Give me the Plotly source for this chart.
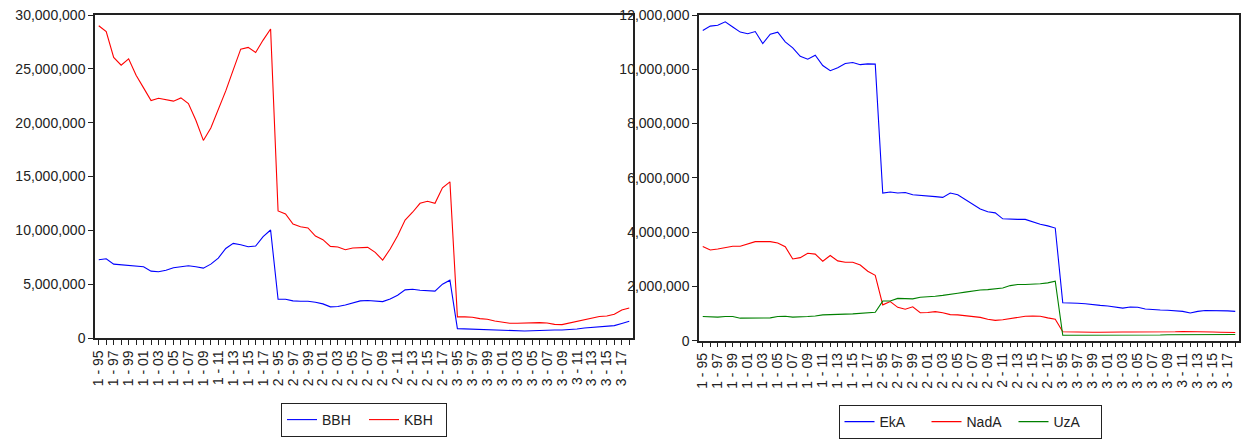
import plotly.graph_objects as go

# Category labels: three groups, each covering the years 1995-2018
groups = ["1", "2", "3"]
years = ["95", "96", "97", "98", "99", "00", "01", "02", "03", "04", "05", "06",
         "07", "08", "09", "10", "11", "12", "13", "14", "15", "16", "17", "18"]

# Series values in millions
bbh = [7.27, 7.36, 6.86, 6.80, 6.80, 6.68, 6.62, 6.21, 6.15, 6.30, 6.52, 6.62,
       6.71, 6.62, 6.49, 6.86, 7.42, 8.32, 8.79, 8.66, 8.48, 8.54, 9.41, 10.03,
       3.60, 3.60, 3.45, 3.42, 3.42, 3.32, 3.17, 2.89, 2.92, 3.07, 3.26, 3.45,
       3.48, 3.45, 3.38, 3.63, 3.97, 4.47, 4.53, 4.44, 4.38, 4.35, 5.00, 5.37,
       0.87, 0.84, 0.81, 0.78, 0.78, 0.75, 0.68, 0.65, 0.65, 0.65, 0.68, 0.72,
       0.75, 0.75, 0.75, 0.78, 0.84, 0.93, 1.00, 1.06, 1.12, 1.15, 1.35, 1.55]

kbh = [29.00, 28.45, 26.06, 25.34, 25.93, 24.41, 23.23, 22.05, 22.27, 22.15, 22.00, 22.30,
       21.77, 20.22, 18.35, 19.50, 21.15, 22.95, 24.90, 26.83, 26.99, 26.52, 27.67, 28.70,
       11.80, 11.52, 10.59, 10.34, 10.22, 9.47, 9.13, 8.51, 8.45, 8.20, 8.36, 8.42,
       8.42, 7.95, 7.24, 8.26, 9.50, 10.96, 11.68, 12.51, 12.70, 12.51, 13.95, 14.50,
       1.96, 1.96, 1.93, 1.80, 1.74, 1.58, 1.46, 1.37, 1.37, 1.40, 1.43, 1.43,
       1.40, 1.27, 1.24, 1.40, 1.52, 1.74, 1.90, 2.00, 2.05, 2.20, 2.60, 2.78]

eka = [11.43, 11.59, 11.62, 11.75, 11.56, 11.37, 11.31, 11.39, 10.95, 11.29, 11.37, 11.01,
       10.79, 10.48, 10.37, 10.52, 10.14, 9.95, 10.06, 10.21, 10.25, 10.17, 10.20, 10.19,
       5.44, 5.48, 5.44, 5.46, 5.38, 5.36, 5.35, 5.31, 5.28, 5.44, 5.38, 5.20,
       5.00, 4.85, 4.75, 4.71, 4.49, 4.47, 4.47, 4.47, 4.37, 4.29, 4.23, 4.15,
       1.40, 1.40, 1.38, 1.36, 1.32, 1.30, 1.28, 1.24, 1.20, 1.24, 1.23, 1.17,
       1.14, 1.13, 1.12, 1.11, 1.08, 1.02, 1.08, 1.11, 1.11, 1.10, 1.10, 1.08]

nada = [3.47, 3.34, 3.38, 3.43, 3.48, 3.48, 3.56, 3.65, 3.65, 3.65, 3.60, 3.46,
        3.01, 3.06, 3.22, 3.19, 2.93, 3.14, 2.94, 2.89, 2.89, 2.79, 2.56, 2.41,
        1.32, 1.44, 1.23, 1.16, 1.25, 1.03, 1.04, 1.07, 1.03, 0.96, 0.95, 0.92,
        0.87, 0.86, 0.79, 0.75, 0.77, 0.81, 0.87, 0.90, 0.91, 0.90, 0.84, 0.79,
        0.33, 0.32, 0.32, 0.32, 0.31, 0.31, 0.32, 0.33, 0.32, 0.32, 0.32, 0.31,
        0.31, 0.31, 0.32, 0.33, 0.34, 0.34, 0.33, 0.33, 0.32, 0.31, 0.31, 0.30]

uza = [0.89, 0.87, 0.87, 0.89, 0.89, 0.83, 0.83, 0.84, 0.83, 0.84, 0.89, 0.90,
       0.87, 0.87, 0.89, 0.91, 0.95, 0.96, 0.96, 0.98, 0.99, 1.01, 1.01, 1.05,
       1.46, 1.46, 1.56, 1.54, 1.54, 1.60, 1.61, 1.64, 1.67, 1.72, 1.75, 1.79,
       1.83, 1.87, 1.88, 1.90, 1.94, 2.03, 2.07, 2.07, 2.08, 2.10, 2.13, 2.19,
       0.20, 0.20, 0.20, 0.19, 0.19, 0.20, 0.20, 0.20, 0.20, 0.21, 0.21, 0.21,
       0.21, 0.21, 0.22, 0.22, 0.22, 0.22, 0.23, 0.23, 0.23, 0.23, 0.23, 0.23]

left_ticks = [0, 5_000_000, 10_000_000, 15_000_000, 20_000_000, 25_000_000, 30_000_000]
right_ticks = [0, 2_000_000, 4_000_000, 6_000_000, 8_000_000, 10_000_000, 12_000_000]

MILLION = 1_000_000
labels = [f"{g} - {y}" for g in groups for y in years]
xpos = list(range(len(labels)))
ticktext = [lab if i % 2 == 0 else "" for i, lab in enumerate(labels)]

FONT = "Liberation Sans, Arial, sans-serif"
TEXT = "#222222"
W, H = 1246, 439


def scaled(vals):
    return [v * MILLION for v in vals]


fig = go.Figure()
line_kw = dict(width=1.1)
fig.add_trace(go.Scatter(x=xpos, y=scaled(bbh), name="BBH", mode="lines",
                         line=dict(color="#0000ff", **line_kw), xaxis="x", yaxis="y",
                         legend="legend"))
fig.add_trace(go.Scatter(x=xpos, y=scaled(kbh), name="KBH", mode="lines",
                         line=dict(color="#ff0000", **line_kw), xaxis="x", yaxis="y",
                         legend="legend"))
fig.add_trace(go.Scatter(x=xpos, y=scaled(eka), name="EkA", mode="lines",
                         line=dict(color="#0000ff", **line_kw), xaxis="x2", yaxis="y2",
                         legend="legend2"))
fig.add_trace(go.Scatter(x=xpos, y=scaled(nada), name="NadA", mode="lines",
                         line=dict(color="#ff0000", **line_kw), xaxis="x2", yaxis="y2",
                         legend="legend2"))
fig.add_trace(go.Scatter(x=xpos, y=scaled(uza), name="UzA", mode="lines",
                         line=dict(color="#008000", **line_kw), xaxis="x2", yaxis="y2",
                         legend="legend2"))

xaxis_common = dict(
    range=[-0.5, len(labels) - 0.5],
    tickmode="array", tickvals=xpos, ticktext=ticktext,
    tickangle=-90, ticks="outside", ticklen=5, tickwidth=1, tickcolor=TEXT,
    showline=True, linecolor=TEXT, linewidth=1.5, mirror=True,
    showgrid=False, zeroline=False, automargin=False,
    tickfont=dict(family=FONT, size=14, color=TEXT),
)
yaxis_common = dict(
    tickmode="array", ticks="outside", ticklen=5, tickwidth=1, tickcolor=TEXT,
    tickformat=",d",
    showline=True, linecolor=TEXT, linewidth=1.5, mirror=True,
    showgrid=False, zeroline=False, automargin=False,
    tickfont=dict(family=FONT, size=14, color=TEXT),
)

legend_common = dict(
    orientation="h", bordercolor=TEXT, borderwidth=1, bgcolor="white",
    font=dict(family=FONT, size=14, color=TEXT),
    xanchor="center", yanchor="middle",
    entrywidthmode="pixels",
)

fig.update_layout(
    width=W, height=H, autosize=False,
    margin=dict(l=0, r=0, t=0, b=0, autoexpand=False),
    paper_bgcolor="white", plot_bgcolor="white",
    xaxis=dict(domain=[95 / W, 633 / W], anchor="y", **xaxis_common),
    yaxis=dict(domain=[1 - 338 / H, 1 - 15 / H], anchor="x",
               range=[0, 30_000_000], tickvals=left_ticks, **yaxis_common),
    xaxis2=dict(domain=[699 / W, 1239 / W], anchor="y2", **xaxis_common),
    yaxis2=dict(domain=[1 - 340.7 / H, 1 - 15 / H], anchor="x2",
                range=[0, 12_000_000], tickvals=right_ticks, **yaxis_common),
    legend=dict(x=364 / W, y=1 - 420 / H, entrywidth=37, **legend_common),
    legend2=dict(x=970 / W, y=1 - 422 / H, entrywidth=42, **legend_common),
    showlegend=True,
)

fig.write_html("out.html")
